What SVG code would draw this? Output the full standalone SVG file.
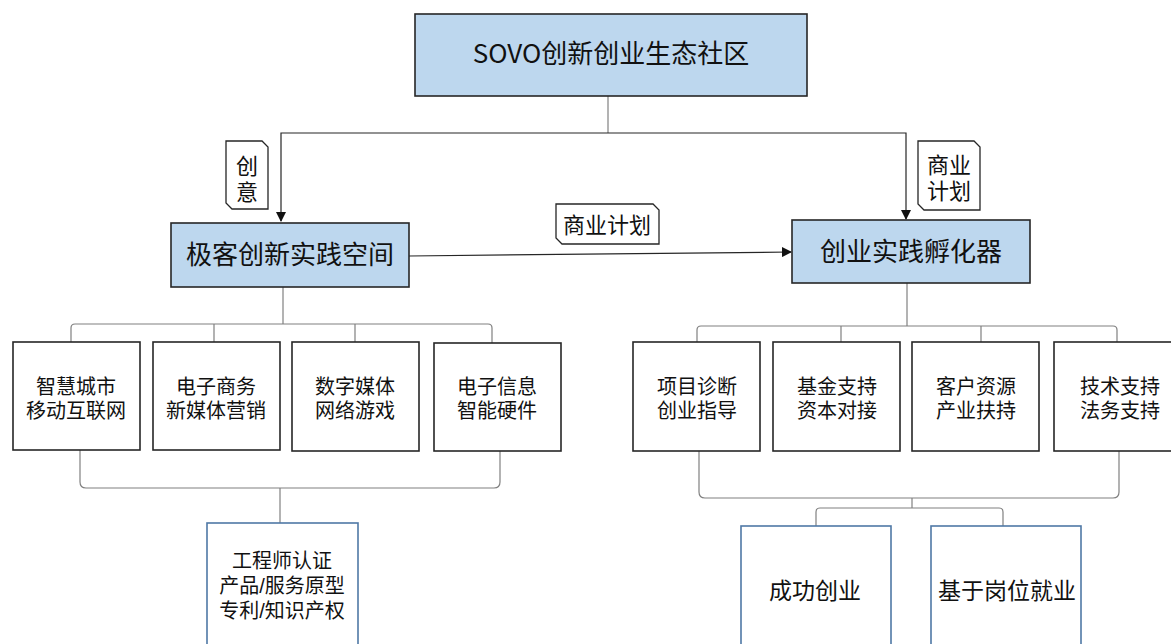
<svg xmlns="http://www.w3.org/2000/svg" width="1171" height="644" viewBox="0 0 1171 644">
<style>
text{font-family:"Liberation Sans","Noto Sans CJK SC",sans-serif;fill:#111;text-anchor:middle}
.title{font-family:"Noto Sans CJK SC","Noto Sans",sans-serif}
.main{fill:#BDD7EE;stroke:#262626;stroke-width:1.6}
.sub{fill:#fff;stroke:#262626;stroke-width:1.6}
.res{fill:#fff;stroke:#4F78A6;stroke-width:1.6}
.tag{fill:#fff;stroke:#262626;stroke-width:1.3}
.c{fill:none;stroke:#808080;stroke-width:1.2}
.a{fill:none;stroke:#262626;stroke-width:1.2}
.t26{font-size:26px}.t20{font-size:20px}.t23{font-size:23px}.t22{font-size:22px}
</style>
<defs>
<marker id="arr" markerWidth="10" markerHeight="10" refX="9" refY="5" orient="auto" markerUnits="userSpaceOnUse">
<path d="M0,0 L10,5 L0,10 Z" fill="#111"/>
</marker>
</defs>
<g id="connectors">
<path class="c" d="M608,96 V133"/>
<path class="a" d="M608,133 H281 V221" marker-end="url(#arr)"/>
<path class="a" d="M608,133 H906 V219" marker-end="url(#arr)"/>
<path class="a" d="M409,256 L791,252" marker-end="url(#arr)"/>
<path class="c" d="M283,287 V324"/>
<path class="c" d="M71,342 V328 Q71,324 75,324 H488 Q492,324 492,328 V343"/>
<path class="c" d="M214,324 V342 M355,324 V342"/>
<path class="c" d="M80,450 V482 Q80,488 86,488 H494 Q500,488 500,482 V451"/>
<path class="c" d="M280,488 V523"/>
<path class="c" d="M907,283 V326"/>
<path class="c" d="M697,342 V330 Q697,326 701,326 H1113 Q1117,326 1117,330 V342"/>
<path class="c" d="M841,326 V342 M981,326 V342"/>
<path class="c" d="M699,451 V492 Q699,498 705,498 H1113 Q1119,498 1119,492 V451"/>
<path class="c" d="M912,498 V508"/>
<path class="c" d="M816,526 V512 Q816,508 820,508 H999 Q1003,508 1003,512 V526"/>
</g>
<g id="tag-chuangyi">
<path class="tag" d="M226,141 H262 L268,147 V209 H232 L226,203 Z"/>
<text class="t22" x="247" y="174">创<tspan x="247" dy="25.5">意</tspan></text>
</g>
<g id="tag-plan-v">
<path class="tag" d="M918,141 H974 L980,147 V210 H924 L918,204 Z"/>
<text class="t22" x="949" y="173">商业<tspan x="949" dy="26">计划</tspan></text>
</g>
<g id="tag-plan-h">
<path class="tag" d="M556,204 H653 L659,210 V244 H562 L556,238 Z"/>
<text class="t22" x="607" y="233">商业计划</text>
</g>
<g id="root">
<rect class="main" x="415" y="14" width="392" height="82"/>
<text class="t26 title" x="611" y="63">SOVO创新创业生态社区</text>
</g>
<g id="geek">
<rect class="main" x="171" y="223" width="238" height="64"/>
<text class="t26" x="290" y="264">极客创新实践空间</text>
</g>
<g id="incubator">
<rect class="main" x="792" y="220" width="238" height="63"/>
<text class="t26" x="911" y="261">创业实践孵化器</text>
</g>
<g id="l1">
<rect class="sub" x="13" y="342" width="127" height="108"/>
<text class="t20" x="76" y="394">智慧城市<tspan x="76" dy="24">移动互联网</tspan></text>
</g>
<g id="l2">
<rect class="sub" x="153" y="342" width="127" height="108"/>
<text class="t20" x="216" y="394">电子商务<tspan x="216" dy="24">新媒体营销</tspan></text>
</g>
<g id="l3">
<rect class="sub" x="292" y="342" width="127" height="109"/>
<text class="t20" x="355" y="394">数字媒体<tspan x="355" dy="24">网络游戏</tspan></text>
</g>
<g id="l4">
<rect class="sub" x="434" y="343" width="127" height="108"/>
<text class="t20" x="497" y="394">电子信息<tspan x="497" dy="24">智能硬件</tspan></text>
</g>
<g id="r1">
<rect class="sub" x="633" y="342" width="127" height="109"/>
<text class="t20" x="697" y="394">项目诊断<tspan x="697" dy="24">创业指导</tspan></text>
</g>
<g id="r2">
<rect class="sub" x="773" y="342" width="127" height="109"/>
<text class="t20" x="837" y="394">基金支持<tspan x="837" dy="24">资本对接</tspan></text>
</g>
<g id="r3">
<rect class="sub" x="912" y="342" width="127" height="109"/>
<text class="t20" x="976" y="394">客户资源<tspan x="976" dy="24">产业扶持</tspan></text>
</g>
<g id="r4">
<rect class="sub" x="1054" y="342" width="127" height="109"/>
<text class="t20" x="1120" y="394">技术支持<tspan x="1120" dy="24">法务支持</tspan></text>
</g>
<g id="outcome-left">
<rect class="res" x="207" y="523" width="151" height="130"/>
<text class="t20" x="282" y="568">工程师认证<tspan x="282" dy="25">产品/服务原型</tspan><tspan x="282" dy="25">专利/知识产权</tspan></text>
</g>
<g id="success">
<rect class="res" x="741" y="526" width="150" height="130"/>
<text class="t23" x="815" y="599">成功创业</text>
</g>
<g id="employment">
<rect class="res" x="931" y="526" width="150" height="130"/>
<text class="t23" x="1007" y="599">基于岗位就业</text>
</g>
</svg>
